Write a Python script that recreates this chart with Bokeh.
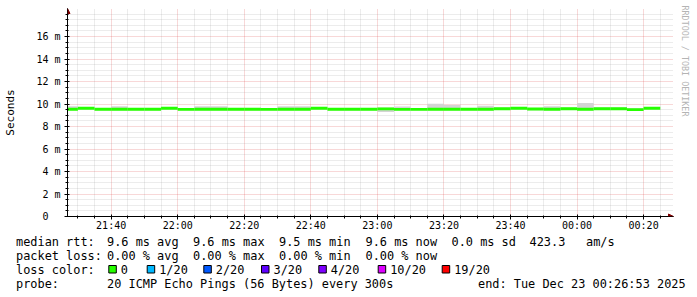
from bokeh.plotting import figure
from bokeh.layouts import column
from bokeh.models import FixedTicker, Label, Arrow, NormalHead, Range1d, Title
from bokeh.embed import file_html
from bokeh.resources import INLINE

# ---------------- data ----------------
# time axis in minutes since 21:00 on Dec 22
t_start = 26 + 53 / 60.0          # 21:26:53
interval_start = [25 + 5 * i for i in range(36)]   # 5-minute rrd steps
median_ms = [9.54, 9.62, 9.54, 9.54, 9.54, 9.54, 9.62, 9.52, 9.54, 9.54,
             9.54, 9.54, 9.52, 9.54, 9.54, 9.62, 9.54, 9.54, 9.54, 9.57,
             9.52, 9.52, 9.54, 9.54, 9.54, 9.54, 9.58, 9.62, 9.56, 9.54,
             9.58, 9.54, 9.58, 9.58, 9.50, 9.62]
smoke_lo = [9.45, 9.55, 9.45, 9.45, 9.45, 9.45, 9.55, 9.45, 9.45, 9.45,
            9.45, 9.45, 9.45, 9.45, 9.45, 9.55, 9.45, 9.45, 9.45, 9.30,
            9.45, 9.45, 9.45, 9.45, 9.45, 9.45, 9.50, 9.55, 9.45, 9.45,
            9.50, 9.45, 9.50, 9.50, 9.40, 9.55]
smoke_hi = [9.80, 9.70, 9.62, 9.80, 9.62, 9.62, 9.70, 9.62, 9.80, 9.80,
            9.62, 9.62, 9.62, 9.80, 9.80, 9.70, 9.62, 9.62, 9.62, 9.70,
            9.78, 9.62, 10.03, 9.91, 9.62, 9.85, 9.70, 9.72, 9.62, 9.80,
            9.70, 10.08, 9.70, 9.70, 9.62, 9.74]

x_tick_values = [40, 60, 80, 100, 120, 140, 160, 180, 200]
x_tick_labels = ["21:40", "22:00", "22:20", "22:40", "23:00", "23:20", "23:40", "00:00", "00:20"]
x_minor_values = [m for m in range(30, 210, 5) if m not in x_tick_values]
y_tick_values = [0, 2, 4, 6, 8, 10, 12, 14, 16]
y_tick_labels = ["0\u00a0\u00a0", "2 m", "4 m", "6 m", "8 m", "10 m", "12 m", "14 m", "16 m"]
y_minor_values = [v / 2 for v in range(1, 37) if v % 4 != 0 or v == 36]

loss_labels = ["0", "1/20", "2/20", "3/20", "4/20", "10/20", "19/20"]
loss_colors = ["#26ff00", "#00b8ff", "#0059ff", "#5e00ff", "#7e00ff", "#dd00ff", "#ff0000"]

stats_rtt = ["median rtt:", "9.6 ms avg", "9.6 ms max", "9.5 ms min", "9.6 ms now", "0.0 ms sd", "423.3", "am/s"]
stats_loss = ["packet loss:", "0.00 % avg", "0.00 % max", "0.00 % min", "0.00 % now"]
probe_text = ["probe:", "20 ICMP Echo Pings (56 Bytes) every 300s", "end: Tue Dec 23 00:26:53 2025"]

# ---------------- layout ----------------
W, H = 697, 297
H1 = 234                      # height of the graph part
BL, BR, BT, BB = 67, 23, 8, 18
FW = W - BL - BR              # 607 px
FH = H1 - BT - BB             # 208 px
MIN_PER_PX = 0.3
MS_PER_PX = 1 / 11.25
MONO = "DejaVu Sans Mono"

p = figure(width=W, height=H1, output_backend="svg", toolbar_location=None,
           x_range=Range1d(t_start, t_start + FW * MIN_PER_PX),
           y_range=Range1d(0, FH * MS_PER_PX),
           min_border_left=BL, min_border_right=BR, min_border_top=BT, min_border_bottom=BB,
           background_fill_color="white", border_fill_color="white", outline_line_color=None)

# smoke and median band
left = interval_start
right = [s + 5 for s in interval_start]
p.quad(left=left, right=right, bottom=smoke_lo, top=smoke_hi,
       fill_color="#d4d4d4", line_color=None)
half = 0.13
p.quad(left=left, right=right, bottom=[m - half for m in median_ms], top=[m + half for m in median_ms],
       fill_color=loss_colors[0], line_color=None)

# axes
for ax in (p.xaxis[0], p.yaxis[0]):
    ax.axis_line_color = "black"
    ax.major_tick_line_color = "black"
    ax.minor_tick_line_color = "black"
    ax.major_tick_in = 2
    ax.major_tick_out = 3
    ax.minor_tick_in = 1
    ax.minor_tick_out = 2
    ax.major_label_text_font = MONO
    ax.major_label_text_font_size = "10px"
    ax.major_label_text_color = "black"

p.xaxis.ticker = FixedTicker(ticks=x_tick_values, minor_ticks=x_minor_values)
p.xaxis.major_label_overrides = dict(zip(x_tick_values, x_tick_labels))
p.xaxis.major_label_standoff = 0
p.yaxis.ticker = FixedTicker(ticks=y_tick_values, minor_ticks=y_minor_values)
p.yaxis.major_label_overrides = dict(zip(y_tick_values, y_tick_labels))
p.yaxis.major_label_standoff = 4
p.yaxis.axis_label = "Seconds"
p.yaxis.axis_label_text_font = MONO
p.yaxis.axis_label_text_font_size = "11px"
p.yaxis.axis_label_text_font_style = "normal"
p.yaxis.axis_label_text_color = "black"
p.yaxis.axis_label_standoff = 16

# grids
for g in (p.xgrid[0], p.ygrid[0]):
    g.grid_line_color = "#e05050"
    g.grid_line_alpha = 0.45
    g.grid_line_dash = "1 1"
    g.minor_grid_line_color = "#8f8f8f"
    g.minor_grid_line_alpha = 0.35
    g.minor_grid_line_dash = "1 1"

# axis arrows
p.add_layout(Arrow(x_start=0, y_start=0, x_end=FW - 1, y_end=0, start_units="screen", end_units="screen",
                   line_color="black", line_width=1,
                   end=NormalHead(size=5, fill_color="#800000", line_color="#800000")))
p.add_layout(Arrow(x_start=0, y_start=0, x_end=0, y_end=FH, start_units="screen", end_units="screen",
                   line_color="black", line_width=1,
                   end=NormalHead(size=5, fill_color="#800000", line_color="#800000")))

# watermark on the right edge
p.add_layout(Title(text="RRDTOOL / TOBI OETIKER", align="left", text_font=MONO,
                   text_font_size="8.4px", text_font_style="normal", text_color="#b4b4b4",
                   standoff=12, offset=-3), "right")

# ---------------- legend block ----------------
q = figure(width=W, height=H - H1, output_backend="svg", toolbar_location=None,
           x_range=Range1d(0, W), y_range=Range1d(H, H1),
           x_axis_location=None, y_axis_location=None,
           min_border=0, background_fill_color="white", border_fill_color="white",
           outline_line_color=None)
q.grid.visible = False
for fig in (p, q):
    try:
        fig.frame_align = False
    except Exception:
        pass


def put(text, cx, cy, size="11.9px", color="black"):
    q.add_layout(Label(x=cx, y=cy, text=text, text_font=MONO, text_font_size=size,
                       text_color=color, text_baseline="middle"))


row_y = [241, 255, 269, 283]
rtt_x = [15.5, 106.5, 192.5, 278.5, 365, 451, 529, 585.5]
for t, x in zip(stats_rtt, rtt_x):
    put(t, x, row_y[0])
loss_x = [15.5, 106.5, 192.5, 278.5, 365]
for t, x in zip(stats_loss, loss_x):
    put(t, x, row_y[1])
put("loss color:", 15.5, row_y[2])
box_x = [108.3, 146.7, 203.3, 261, 318.3, 377.7, 441.7]
q.quad(left=box_x, right=[b + 7.5 for b in box_x],
       bottom=[row_y[2] + 3.5] * len(box_x), top=[row_y[2] - 4] * len(box_x),
       fill_color=loss_colors, line_color="black", line_width=1)
for lab, bx in zip(loss_labels, box_x):
    put(lab, bx + 12, row_y[2])
probe_x = [15.5, 106.5, 477.5]
for t, x in zip(probe_text, probe_x):
    put(t, x, row_y[3])

open("out.html", "w").write(file_html(column(p, q, spacing=0), INLINE))
